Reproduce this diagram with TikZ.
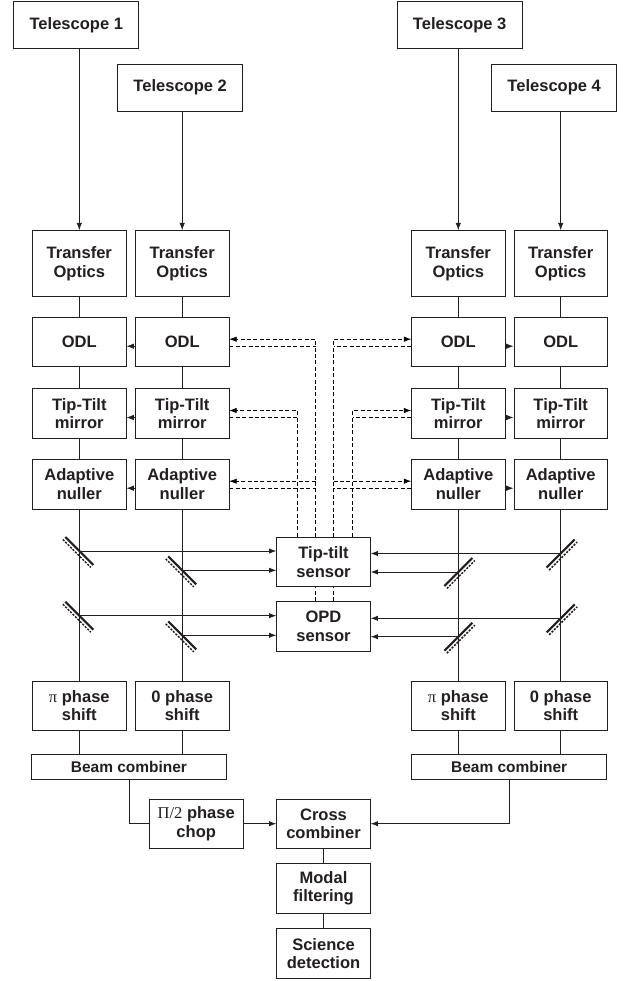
\documentclass[tikz,border=0pt]{standalone}
\usepackage{fontspec}
\setmainfont{Liberation Sans}
\newfontfamily\grkfont{Liberation Serif}
\usetikzlibrary{arrows.meta,backgrounds,calc}
\definecolor{ink}{RGB}{35,31,32}

\tikzset{every picture/.style={line width=0.6pt,color=ink}}
\tikzset{
  blk/.style={draw, fill=white, inner sep=0pt, align=center,
    minimum width=70.1pt, minimum height=37.1pt,
    font=\fontsize{12.4}{13.7}\selectfont\bfseries},
  telbox/.style={minimum width=93.75pt, minimum height=35.25pt},
  tallbox/.style={minimum height=49.5pt},
  widebox/.style={minimum width=146pt, minimum height=18.5pt,
    font=\fontsize{11.6}{13}\selectfont\bfseries},
  arr/.style={-{Latex[length=5.5pt,width=4pt]}},
  ctrl/.style={dash pattern=on 3pt off 1.8pt},
  mface/.style={line width=1.6pt},
  mback/.style={line width=1.1pt, dash pattern=on 1.6pt off 1pt},
}

\begin{document}
\begin{tikzpicture}[x=0.75pt,y=0.75pt,yscale=-1,xscale=1]
    \useasboundingbox (0,0) rectangle (624,981);

    % Telescopes
    \node[blk,telbox] (tel1) at (76.3,25.2) {Telescope 1};
    \node[blk,telbox] (tel2) at (180.2,87.7) {Telescope 2};
    \node[blk,telbox] (tel3) at (459.7,25.2) {Telescope 3};
    \node[blk,telbox] (tel4) at (554.2,87.7) {Telescope 4};
    % Transfer optics
    \node[blk,tallbox] (tro1) at (79.3,263.7) {Transfer\\Optics};
    \node[blk,tallbox] (tro2) at (182.2,263.7) {Transfer\\Optics};
    \node[blk,tallbox] (tro3) at (458.3,263.7) {Transfer\\Optics};
    \node[blk,tallbox] (tro4) at (560.7,263.7) {Transfer\\Optics};
    % ODL
    \node[blk,minimum height=36.75pt] (odl1) at (79.3,342.2) {ODL};
    \node[blk,minimum height=36.75pt] (odl2) at (182.2,342.2) {ODL};
    \node[blk,minimum height=36.75pt] (odl3) at (458.3,342.2) {ODL};
    \node[blk,minimum height=36.75pt] (odl4) at (560.7,342.2) {ODL};
    % Tip-tilt mirrors
    \node[blk] (ttm1) at (79.3,413.5) {Tip-Tilt\\mirror};
    \node[blk] (ttm2) at (182.2,413.5) {Tip-Tilt\\mirror};
    \node[blk] (ttm3) at (458.3,413.5) {Tip-Tilt\\mirror};
    \node[blk] (ttm4) at (560.7,413.5) {Tip-Tilt\\mirror};
    % Adaptive nullers
    \node[blk] (anl1) at (79.3,484.2) {Adaptive\\nuller};
    \node[blk] (anl2) at (182.2,484.2) {Adaptive\\nuller};
    \node[blk] (anl3) at (458.3,484.2) {Adaptive\\nuller};
    \node[blk] (anl4) at (560.7,484.2) {Adaptive\\nuller};
    % Sensors
    \node[blk] (tts) at (323.5,562) {Tip-tilt\\sensor};
    \node[blk] (opd) at (323.5,626.3) {OPD\\sensor};
    % Phase shifts
    \node[blk] (psh1) at (79.3,705.7) {{\grkfont\mdseries π} phase\\shift};
    \node[blk] (psh2) at (182.2,705.7) {0 phase\\shift};
    \node[blk] (psh3) at (458.3,705.7) {{\grkfont\mdseries π} phase\\shift};
    \node[blk] (psh4) at (560.7,705.7) {0 phase\\shift};
    % Beam combiners
    \node[blk,widebox] (bcb1) at (129,766.7) {Beam combiner};
    \node[blk,widebox] (bcb2) at (509.2,766.7) {Beam combiner};
    % Recombination chain
    \node[blk] (chop) at (196.2,823.7) {{\grkfont\mdseries Π/2} phase\\chop};
    \node[blk] (crs) at (323.5,823.7) {Cross\\combiner};
    \node[blk] (mod) at (323.5,888.5) {Modal\\filtering};
    \node[blk] (sci) at (323.5,953.5) {Science\\detection};

    % Beam splitter positions
    \coordinate (bs1) at (79.3,551);
    \coordinate (bs2) at (182.2,570.3);
    \coordinate (bs3) at (458.3,572);
    \coordinate (bs4) at (560.7,553.5);
    \coordinate (os1) at (79.3,615.7);
    \coordinate (os2) at (182.2,635.3);
    \coordinate (os3) at (458.3,636.7);
    \coordinate (os4) at (560.7,618.3);
    % Control line verticals
    \coordinate (vt2) at (297.3,0);
    \coordinate (vo2) at (315.5,0);
    \coordinate (vo3) at (333.5,0);
    \coordinate (vt3) at (352.7,0);

    % Telescope feeds
    \draw[arr] (tel1.south -| tro1.north) -- (tro1.north);
    \draw[arr] (tel2.south -| tro2.north) -- (tro2.north);
    \draw[arr] (tel3.south -| tro3.north) -- (tro3.north);
    \draw[arr] (tel4.south -| tro4.north) -- (tro4.north);
    % Beam trains
    \draw (tro1) -- (odl1) -- (ttm1) -- (anl1) -- (psh1);
    \draw (tro2) -- (odl2) -- (ttm2) -- (anl2) -- (psh2);
    \draw (tro3) -- (odl3) -- (ttm3) -- (anl3) -- (psh3);
    \draw (tro4) -- (odl4) -- (ttm4) -- (anl4) -- (psh4);
    % Neighbour links
    \draw[arr] ($(odl2.west)+(0,4)$) -- ($(odl1.east)+(0,4)$);
    \draw[arr] ($(ttm2.west)+(0,4)$) -- ($(ttm1.east)+(0,4)$);
    \draw[arr] ($(anl2.west)+(0,4)$) -- ($(anl1.east)+(0,4)$);
    \draw[arr] ($(odl3.east)+(0,4)$) -- ($(odl4.west)+(0,4)$);
    \draw[arr] ($(ttm3.east)+(0,4)$) -- ($(ttm4.west)+(0,4)$);
    \draw[arr] ($(anl3.east)+(0,4)$) -- ($(anl4.west)+(0,4)$);

    % Pick-offs to sensors
    \draw[arr] (bs1) -- (bs1 -| tts.west);
    \draw[arr] (bs2) -- (bs2 -| tts.west);
    \draw[arr] (bs3) -- (bs3 -| tts.east);
    \draw[arr] (bs4) -- (bs4 -| tts.east);
    \draw[arr] (os1) -- (os1 -| opd.west);
    \draw[arr] (os2) -- (os2 -| opd.west);
    \draw[arr] (os3) -- (os3 -| opd.east);
    \draw[arr] (os4) -- (os4 -| opd.east);

    % Beam splitters
    \draw[mface] ($(bs1)+(-14,-14)$) -- ($(bs1)+(14,14)$);
    \draw[mback] ($(bs1)+(-16.5,-11.5)$) -- ($(bs1)+(11.5,16.5)$);
    \draw[mface] ($(bs2)+(-14,-14)$) -- ($(bs2)+(14,14)$);
    \draw[mback] ($(bs2)+(-16.5,-11.5)$) -- ($(bs2)+(11.5,16.5)$);
    \draw[mface] ($(os1)+(-14,-14)$) -- ($(os1)+(14,14)$);
    \draw[mback] ($(os1)+(-16.5,-11.5)$) -- ($(os1)+(11.5,16.5)$);
    \draw[mface] ($(os2)+(-14,-14)$) -- ($(os2)+(14,14)$);
    \draw[mback] ($(os2)+(-16.5,-11.5)$) -- ($(os2)+(11.5,16.5)$);
    \draw[mface] ($(bs3)+(-14,14)$) -- ($(bs3)+(14,-14)$);
    \draw[mback] ($(bs3)+(-11.5,16.5)$) -- ($(bs3)+(16.5,-11.5)$);
    \draw[mface] ($(bs4)+(-14,14)$) -- ($(bs4)+(14,-14)$);
    \draw[mback] ($(bs4)+(-11.5,16.5)$) -- ($(bs4)+(16.5,-11.5)$);
    \draw[mface] ($(os3)+(-14,14)$) -- ($(os3)+(14,-14)$);
    \draw[mback] ($(os3)+(-11.5,16.5)$) -- ($(os3)+(16.5,-11.5)$);
    \draw[mface] ($(os4)+(-14,14)$) -- ($(os4)+(14,-14)$);
    \draw[mback] ($(os4)+(-11.5,16.5)$) -- ($(os4)+(16.5,-11.5)$);

    % Combination
    \draw (psh1) -- (psh1 |- bcb1.north);
    \draw (psh2) -- (psh2 |- bcb1.north);
    \draw (psh3) -- (psh3 |- bcb2.north);
    \draw (psh4) -- (psh4 |- bcb2.north);
    \draw (bcb1.south) |- (chop.west);
    \draw[arr] (chop) -- (crs);
    \draw[arr] (bcb2.south) |- (crs.east);
    \draw (crs) -- (mod) -- (sci);

    % Control loops
    \begin{scope}[on background layer]
    \draw[ctrl,arr] (tts.north -| vt2) |- ($(ttm2.east)+(0,-3)$);
    \draw[ctrl] ($(ttm2.east)+(0,4)$) -- ($(ttm2.east -| vt2)+(0,4)$);
    \draw[ctrl,arr] (opd.north -| vo2) |- ($(odl2.east)+(0,-3)$);
    \draw[ctrl] ($(odl2.east)+(0,4)$) -- ($(odl2.east -| vo2)+(0,4)$);
    \draw[ctrl,arr] ($(anl2.east -| vo2)+(0,-3)$) -- ($(anl2.east)+(0,-3)$);
    \draw[ctrl] ($(anl2.east)+(0,4)$) -- ($(anl2.east -| vo2)+(0,4)$);
    \draw[ctrl,arr] (tts.north -| vt3) |- ($(ttm3.west)+(0,-3)$);
    \draw[ctrl] ($(ttm3.west)+(0,4)$) -- ($(ttm3.west -| vt3)+(0,4)$);
    \draw[ctrl,arr] (opd.north -| vo3) |- ($(odl3.west)+(0,-3)$);
    \draw[ctrl] ($(odl3.west)+(0,4)$) -- ($(odl3.west -| vo3)+(0,4)$);
    \draw[ctrl,arr] ($(anl3.west -| vo3)+(0,-3)$) -- ($(anl3.west)+(0,-3)$);
    \draw[ctrl] ($(anl3.west)+(0,4)$) -- ($(anl3.west -| vo3)+(0,4)$);
    \end{scope}
\end{tikzpicture}
\end{document}
